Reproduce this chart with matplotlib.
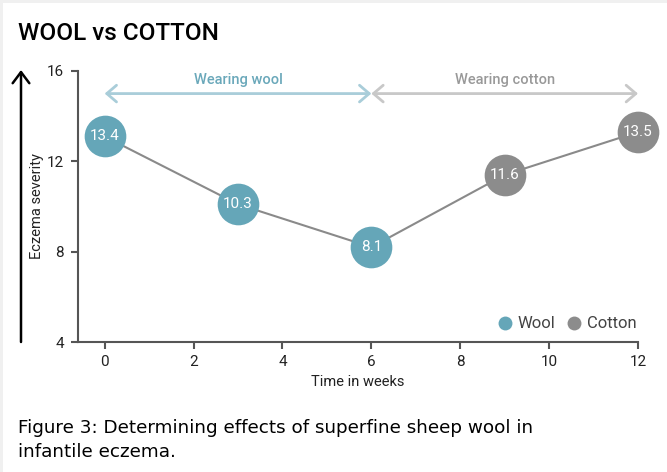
import matplotlib
matplotlib.use("Agg")
import matplotlib.pyplot as plt
from matplotlib.patches import Rectangle, FancyArrowPatch

plt.rcParams['font.family'] = ['Roboto', 'DejaVu Sans']

# ---- data ----
weeks = [0, 3, 6, 9, 12]
severity = [13.1, 10.1, 8.2, 11.4, 13.3]   # plotted positions
labels = ["13.4", "10.3", "8.1", "11.6", "13.5"]
groups = ["Wool", "Wool", "Wool", "Cotton", "Cotton"]
x_ticks = [0, 2, 4, 6, 8, 10, 12]
y_ticks = [4, 8, 12, 16]
periods = [("Wearing wool", 0, 6), ("Wearing cotton", 6, 12)]

WOOL = "#65a6b8"
COTTON = "#8c8c8c"
colors = {"Wool": WOOL, "Cotton": COTTON}
arrow_colors = ["#a9cdd9", "#c8c8c8"]
text_colors = ["#6aa8ba", "#999999"]

W, H = 667, 472
fig = plt.figure(figsize=(W / 100, H / 100), dpi=100)
fig.patch.set_facecolor("#f0f0f0")
fig.patches.append(Rectangle((3 / W, 0), 1, 1 - 3 / H, transform=fig.transFigure,
                             facecolor="white", edgecolor="none", zorder=-10))

ax = fig.add_axes([78 / W, 1 - 342 / H, (638 - 78) / W, (342 - 71) / H])
ax.set_facecolor("none")
ax.set_xlim(-0.6, 12)
ax.set_ylim(4, 16)

ax.plot(weeks, severity, color="#8a8a8a", lw=1.5, zorder=2, clip_on=False)
for x, y, lab, g in zip(weeks, severity, labels, groups):
    ax.plot(x, y, "o", ms=30, color=colors[g], mec="none", zorder=3, clip_on=False)
    ax.text(x, y, lab, color="white", fontsize=11, ha="center", va="center", zorder=4)

for (name, a, b), ac, tc in zip(periods, arrow_colors, text_colors):
    arr = FancyArrowPatch((a, 15.0), (b, 15.0), arrowstyle="<->,head_length=7,head_width=6",
                          color=ac, lw=2, mutation_scale=1, shrinkA=0, shrinkB=0, clip_on=False)
    ax.add_patch(arr)
    ax.text((a + b) / 2, 15.6, name, color=tc, fontsize=10.5, fontweight="medium",
            ha="center", va="center")

for s in ["top", "right"]:
    ax.spines[s].set_visible(False)
for s in ["left", "bottom"]:
    ax.spines[s].set_color("#555555")
    ax.spines[s].set_linewidth(1.5)

ax.set_xticks(x_ticks)
ax.set_yticks(y_ticks)
ax.tick_params(axis="both", colors="#555555", width=1.5, length=5, labelcolor="#222222", labelsize=11)
ax.tick_params(axis="y", pad=5)
ax.tick_params(axis="x", pad=4)
ax.set_xlabel("Time in weeks", fontsize=10.5, color="#222222", labelpad=5)
ax.set_ylabel("Eczema severity", fontsize=10.5, color="#222222")
ax.yaxis.set_label_coords((44 - 78) / 560, 0.5)

# legend
for name, px, tx in [("Wool", 505, 518), ("Cotton", 574, 587)]:
    fig.lines.append(plt.Line2D([px / W], [1 - 323 / H], marker="o", ms=10,
                                color=colors[name], mec="none", transform=fig.transFigure))
    fig.text(tx / W, 1 - 323 / H, name, fontsize=12, color="#444444",
             ha="left", va="center")

# big left arrow
fig.patches.append(FancyArrowPatch((21 / W, 1 - 342 / H), (21 / W, 1 - 70 / H),
                                   transform=fig.transFigure, arrowstyle="->,head_length=8,head_width=6",
                                   color="black", lw=1.8, mutation_scale=1, shrinkA=0, shrinkB=0))

fig.text(18 / W, 1 - 34 / H, "WOOL vs COTTON", fontsize=17.5, fontweight="medium",
         color="black", ha="left", va="center")
fig.text(18 / W, 1 - 428 / H, "Figure 3: Determining effects of superfine sheep wool in",
         fontsize=13.2, color="black", ha="left", va="center", family=["DejaVu Sans"])
fig.text(18 / W, 1 - 452 / H, "infantile eczema.", fontsize=13.2, color="black",
         ha="left", va="center", family=["DejaVu Sans"])

fig.savefig("out.png", dpi=100, facecolor=fig.get_facecolor())
